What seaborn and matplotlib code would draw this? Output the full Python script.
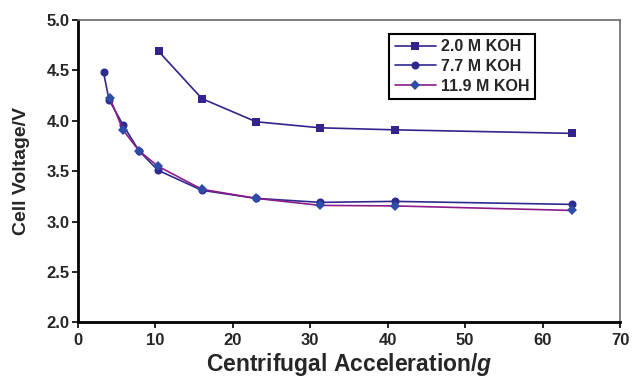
import matplotlib
matplotlib.use("Agg")
import matplotlib.pyplot as plt
import seaborn as sns
import pandas as pd

# Data
x_2_0 = [10.4, 16.0, 23.0, 31.3, 40.9, 63.8]
v_2_0 = [4.69, 4.22, 3.99, 3.93, 3.91, 3.875]

x_7_7 = [3.3, 4.0, 5.8, 7.9, 10.3, 16.0, 23.0, 31.3, 40.9, 63.8]
v_7_7 = [4.48, 4.21, 3.96, 3.70, 3.51, 3.31, 3.23, 3.19, 3.20, 3.17]

x_11_9 = [4.1, 5.8, 7.9, 10.3, 16.0, 23.0, 31.3, 40.9, 63.8]
v_11_9 = [4.23, 3.91, 3.70, 3.55, 3.32, 3.23, 3.16, 3.155, 3.11]

labels = ["2.0 M KOH", "7.7 M KOH", "11.9 M KOH"]
x_ticks = [0, 10, 20, 30, 40, 50, 60, 70]
y_ticks = [2.0, 2.5, 3.0, 3.5, 4.0, 4.5, 5.0]

sns.set_theme(style="white")
plt.rcParams["font.family"] = ["Liberation Sans", "DejaVu Sans"]
plt.rcParams["font.weight"] = "bold"
plt.rcParams["mathtext.fontset"] = "custom"
plt.rcParams["mathtext.it"] = "Liberation Sans:italic:bold"
plt.rcParams["mathtext.rm"] = "Liberation Sans:bold"

fig = plt.figure(figsize=(6.32, 3.77), dpi=100)
ax = fig.add_axes([78 / 632, 1 - 322.3 / 377, 542 / 632, 302.3 / 377])

df1 = pd.DataFrame({"x": x_2_0, "y": v_2_0})
df2 = pd.DataFrame({"x": x_7_7, "y": v_7_7})
df3 = pd.DataFrame({"x": x_11_9, "y": v_11_9})

sns.lineplot(data=df1, x="x", y="y", ax=ax, color="#33238C", lw=1.2,
             marker="s", markersize=5.2, markeredgewidth=0, label=labels[0],
             sort=False)
sns.lineplot(data=df2, x="x", y="y", ax=ax, color="#2E2A8E", lw=1.2,
             marker="o", markersize=5.8, markeredgewidth=0, label=labels[1],
             sort=False)
sns.lineplot(data=df3, x="x", y="y", ax=ax, color="#8A1C8A", lw=1.2,
             marker="D", markersize=5.5, markeredgewidth=0,
             markerfacecolor="#2E4DA8", label=labels[2], sort=False)

ax.set_xlim(0, 70)
ax.set_ylim(2.0, 5.0)
ax.set_xticks(x_ticks)
ax.set_yticks(y_ticks)
ax.set_xticklabels([str(t) for t in x_ticks], fontsize=12, fontweight="bold")
ax.set_yticklabels([f"{t:.1f}" for t in y_ticks], fontsize=12, fontweight="bold")
ax.tick_params(axis="both", direction="out", length=4, width=1.2,
               color="black", bottom=True, left=True)
ax.tick_params(axis="x", pad=4)
ax.tick_params(axis="y", pad=2)

ax.set_xlabel(r"Centrifugal Acceleration/$g$", fontsize=16.5,
              fontweight="bold", labelpad=2)
ax.set_ylabel("Cell Voltage/V", fontsize=14, fontweight="bold", labelpad=12)

for side in ["left", "bottom"]:
    ax.spines[side].set_color("black")
    ax.spines[side].set_linewidth(2)
for side in ["top", "right"]:
    ax.spines[side].set_visible(True)
    ax.spines[side].set_color("#6a6a6a")
    ax.spines[side].set_linewidth(1.2)

leg = ax.legend(loc="upper left", bbox_to_anchor=(0.574, 0.955),
                frameon=True, fancybox=False, framealpha=1,
                prop={"weight": "bold", "size": 11.5}, handlelength=2.6,
                borderpad=0.35, labelspacing=0.3, handletextpad=0.3,
                borderaxespad=0)
leg.get_frame().set_edgecolor("black")
leg.get_frame().set_linewidth(1.5)

fig.savefig("out.png", dpi=100)
